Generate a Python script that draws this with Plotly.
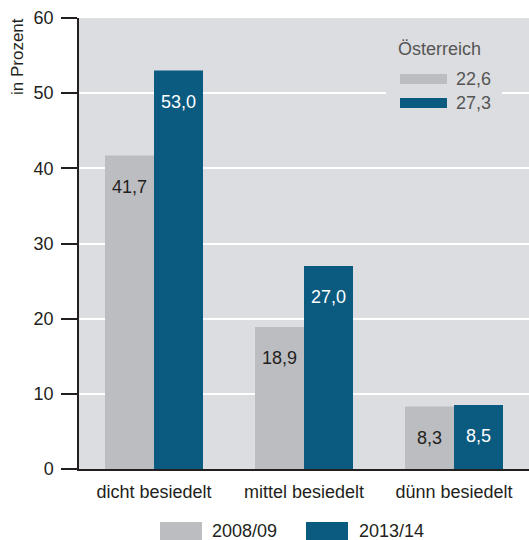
import plotly.graph_objects as go

# Bevölkerungsdichte-Kategorien und Anteile in Prozent
categories = ["dicht besiedelt", "mittel besiedelt", "dünn besiedelt"]
series_names = ["2008/09", "2013/14"]
values_2008 = [41.7, 18.9, 8.3]
values_2013 = [53.0, 27.0, 8.5]
austria_labels = ["22,6", "27,3"]
y_ticks = [0, 10, 20, 30, 40, 50, 60]

GREY = "#bcbdc1"
BLUE = "#0b5b80"
BG = "#dcdde0"
INK = "#231f20"
FONT = "Liberation Sans, Arial, sans-serif"

W, H = 529, 540
ML, MR, MT, MB = 79, 0, 18, 71
PW, PH = W - ML - MR, H - MT - MB


def px(x):
    return (x - ML) / PW


def py(y):
    return (H - MB - y) / PH


def fmt(v):
    return f"{v:.1f}".replace(".", ",")


fig = go.Figure()
fig.add_trace(go.Bar(x=categories, y=values_2008, name=series_names[0],
                     marker=dict(color=GREY, line=dict(width=0))))
fig.add_trace(go.Bar(x=categories, y=values_2013, name=series_names[1],
                     marker=dict(color=BLUE, line=dict(width=0))))

annotations = []
shapes = []

# value labels inside the top of each bar
for vals, shift, col in ((values_2008, -24.5, INK), (values_2013, 24.5, "white")):
    for cat, v in zip(categories, vals):
        annotations.append(dict(x=cat, y=v, xref="x", yref="y", text=fmt(v),
                                showarrow=False, xshift=shift, yshift=-31,
                                xanchor="center", yanchor="middle",
                                font=dict(size=18, color=col, family=FONT)))

# Österreich reference box
shapes.append(dict(type="rect", xref="paper", yref="paper", layer="above",
                   x0=px(386), x1=px(502), y0=py(122), y1=py(32),
                   fillcolor=BG, line=dict(width=0)))
annotations.append(dict(xref="paper", yref="paper", x=px(396), y=py(49.5),
                        text="Österreich", showarrow=False, xanchor="left",
                        yanchor="middle", font=dict(size=18, color="#555555", family=FONT)))
for (y0, y1), col, lab in zip(((74, 84), (98, 108)), (GREY, BLUE), austria_labels):
    shapes.append(dict(type="rect", xref="paper", yref="paper", layer="above",
                       x0=px(400), x1=px(447), y0=py(y1), y1=py(y0),
                       fillcolor=col, line=dict(width=0)))
    annotations.append(dict(xref="paper", yref="paper", x=px(454), y=py((y0 + y1) / 2),
                            text=lab, showarrow=False, xanchor="left", yanchor="middle",
                            font=dict(size=18, color="#555555", family=FONT)))

# bottom legend
for (x0, x1), col, lab, tx in zip(((160, 202), (306, 348)), (GREY, BLUE),
                                   series_names, (210, 357)):
    shapes.append(dict(type="rect", xref="paper", yref="paper", layer="above",
                       x0=px(x0), x1=px(x1), y0=py(541), y1=py(522),
                       fillcolor=col, line=dict(width=0)))
    annotations.append(dict(xref="paper", yref="paper", x=px(tx), y=py(530.5),
                            text=lab, showarrow=False, xanchor="left", yanchor="middle",
                            font=dict(size=18, color=INK, family=FONT)))

# y axis title
annotations.append(dict(xref="paper", yref="paper", x=px(18), y=py(56),
                        text="in Prozent", textangle=-90, showarrow=False,
                        xanchor="center", yanchor="middle",
                        font=dict(size=17, color=INK, family=FONT)))

fig.update_layout(
    width=W, height=H,
    margin=dict(l=ML, r=MR, t=MT, b=MB, pad=0),
    paper_bgcolor="white",
    plot_bgcolor=BG,
    barmode="group",
    bargap=0.3467,
    bargroupgap=0,
    showlegend=False,
    font=dict(family=FONT, size=18, color=INK),
    annotations=annotations,
    shapes=shapes,
)
fig.update_yaxes(range=[0, 60], tickvals=y_ticks, showgrid=True, gridcolor="white",
                 gridwidth=1.5, zeroline=False, showline=True, linecolor=INK,
                 linewidth=1.5, ticks="outside", ticklen=16, tickwidth=1.5,
                 tickcolor=INK, ticklabelstandoff=4,
                 tickfont=dict(size=18, color=INK, family=FONT))
fig.update_xaxes(showline=True, linecolor=INK, linewidth=1.5, ticks="",
                 showgrid=False, ticklabelstandoff=6,
                 tickfont=dict(size=18, color=INK, family=FONT))

fig.write_html("out.html")
